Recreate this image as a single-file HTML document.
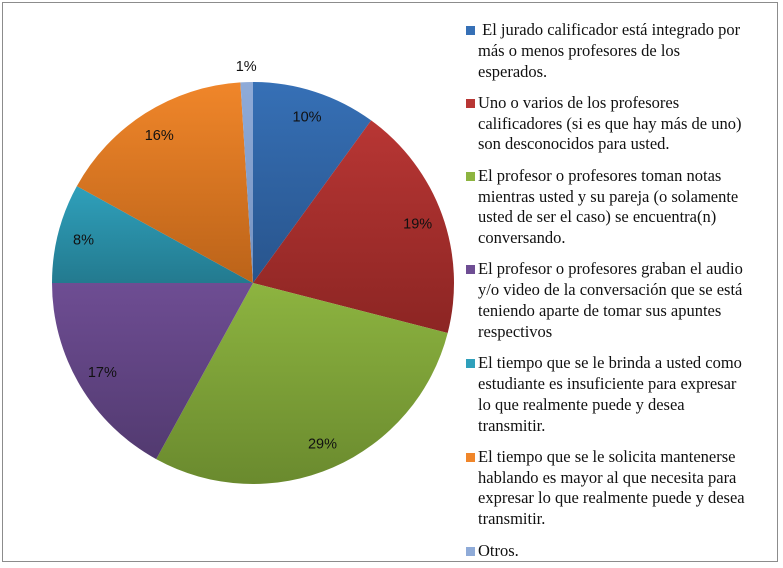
<!DOCTYPE html>
<html><head><meta charset="utf-8"><style>
body{margin:0;background:#fff;}
#wrap{position:relative;width:783px;height:568px;overflow:hidden;background:#fff;}
#frame{position:absolute;left:2px;top:2px;width:776px;height:560px;border:1px solid #8c8c8c;box-sizing:border-box;}
svg{position:absolute;left:0;top:0;}
#legend{position:absolute;left:466px;top:20px;width:315px;font-family:"Liberation Serif",serif;font-size:16.5px;line-height:20.8px;color:#111;white-space:pre;}
.li{position:relative;padding-left:12px;margin-bottom:10.5px;}
.sw{position:absolute;left:0;top:6px;width:9px;height:9px;}
</style></head><body>
<div id="wrap">
<div id="frame"></div>
<svg id="pie" width="783" height="568"><defs id="defs"></defs></svg>
<div id="legend"></div>
</div>
<script>
const categories=[" El jurado calificador está integrado por\nmás o menos profesores de los\nesperados.","Uno o varios de los profesores\ncalificadores (si es que hay más de uno)\nson desconocidos para usted.","El profesor o profesores toman notas\nmientras usted y su pareja (o solamente\nusted de ser el caso) se encuentra(n)\nconversando.","El profesor o profesores graban el audio\ny/o video de la conversación que se está\nteniendo aparte de tomar sus apuntes\nrespectivos","El tiempo que se le brinda a usted como\nestudiante es insuficiente para expresar\nlo que realmente puede y desea\ntransmitir.","El tiempo que se le solicita mantenerse\nhablando es mayor al que necesita para\nexpresar lo que realmente puede y desea\ntransmitir.","Otros."];
const values=[10,19,29,17,8,16,1];
const labels=["10%","19%","29%","17%","8%","16%","1%"];
const colorsTop=["#3670b6","#b83634","#8db440","#6e4d93","#2fa0bb","#f0862a","#8fabd8"];
const colorsBot=["#28548c","#8c2523","#6a8a2e","#523a70","#237a8f","#bb6319","#7592c0"];
const cx=253,cy=283,r=201;
const svg=document.getElementById('pie'),defs=document.getElementById('defs');
const NS="http://www.w3.org/2000/svg";
const total=values.reduce((a,b)=>a+b,0);
function pt(a,rr){return [cx+rr*Math.sin(a),cy-rr*Math.cos(a)];}
let acc=0;
values.forEach((v,i)=>{
  const a0=acc/total*2*Math.PI;acc+=v;const a1=acc/total*2*Math.PI;
  const g=document.createElementNS(NS,'linearGradient');g.setAttribute('id','g'+i);
  g.setAttribute('x1','0');g.setAttribute('y1','0');g.setAttribute('x2','0');g.setAttribute('y2','1');
  g.innerHTML='<stop offset="0" stop-color="'+colorsTop[i]+'"/><stop offset="1" stop-color="'+colorsBot[i]+'"/>';
  defs.appendChild(g);
  const p0=pt(a0,r),p1=pt(a1,r);
  const path=document.createElementNS(NS,'path');
  path.setAttribute('d',`M${cx},${cy}L${p0[0]},${p0[1]}A${r},${r} 0 ${a1-a0>Math.PI?1:0} 1 ${p1[0]},${p1[1]}Z`);
  path.setAttribute('fill','url(#g'+i+')');
  
  
  svg.appendChild(path);
  const am=(a0+a1)/2;const lr=v<3?r+16:175;
  const lp=pt(am,lr);
  const t=document.createElementNS(NS,'text');
  t.setAttribute('x',lp[0]);t.setAttribute('y',lp[1]+5);t.setAttribute('text-anchor','middle');
  t.setAttribute('font-family','"Liberation Sans",sans-serif');t.setAttribute('font-size','14.5');t.setAttribute('fill','#111');
  t.textContent=labels[i];
  
  
  svg.appendChild(t);
});
const leg=document.getElementById('legend');
categories.forEach((c,i)=>{
  const d=document.createElement('div');d.className='li';
  
  
  const s=document.createElement('span');s.className='sw';s.style.background=colorsTop[i];
  
  
  d.appendChild(s);d.appendChild(document.createTextNode(c));leg.appendChild(d);
});
</script>
</body></html>
